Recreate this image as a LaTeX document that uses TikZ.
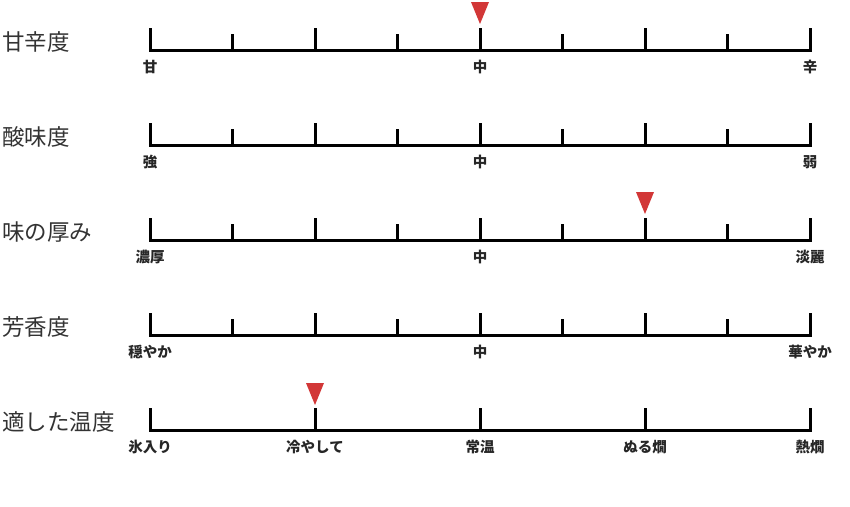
\documentclass[tikz,border=0pt]{standalone}
\usepackage{fontspec}
\newfontfamily\jpfont{Noto Sans CJK JP}
\usepackage{xcolor}
\usetikzlibrary{positioning}
\definecolor{markred}{HTML}{D23737}

\begin{document}
\begin{tikzpicture}[x=1pt, y=-1pt,
  axis/.style={line width=3pt, black},
  rowtitle/.style={anchor=west, font=\jpfont\fontsize{22.5}{22.5}\selectfont, text=black!80, inner sep=0pt},
  ticklabel/.style={font=\jpfont\bfseries\fontsize{14.5}{14.5}\selectfont, text=black!85, inner sep=0pt},
  marker/.style={fill=markred}]
\useasboundingbox (0,0) rectangle (850,506);
% four scales with nine ticks each
\foreach \i/\yy/\ttl/\lo/\hi in {1/50/甘辛度/甘/辛, 2/145/酸味度/強/弱,
    3/240/味の厚み/濃厚/淡麗, 4/335/芳香度/穏やか/華やか}{
  \node[rowtitle] (title\i) at (2,\yy-8) {\ttl};
  \coordinate (a\i) at (150,\yy);
  \coordinate (b\i) at (810,\yy);
  \draw[axis] ([yshift=22pt]a\i) -- (a\i) -- (b\i) -- ([yshift=22pt]b\i);
  \foreach \xx in {315,480,645}
    \draw[axis] (\xx,\yy) -- ++(0,-22);
  \foreach \xx in {232.5,397.5,562.5,727.5}
    \draw[axis] (\xx,\yy) -- ++(0,-16);
  \node[ticklabel] (lo\i) at (150,\yy+17) {\lo};
  \node[ticklabel] (mid\i) at (480,\yy+17) {中};
  \node[ticklabel] (hi\i) at (810,\yy+17) {\hi};
}
% temperature scale
\node[rowtitle] (title5) at (2,422) {適した温度};
\coordinate (a5) at (150,430);
\coordinate (b5) at (810,430);
\draw[axis] ([yshift=22pt]a5) -- (a5) -- (b5) -- ([yshift=22pt]b5);
\foreach \xx in {315,480,645}
  \draw[axis] (\xx,430) -- ++(0,-22);
\foreach \xx/\tl [count=\n] in {150/氷入り, 315/冷やして, 480/常温, 645/ぬる燗, 810/熱燗}
  \node[ticklabel] (temp\n) at (\xx,447) {\tl};
% markers
\coordinate (m1) at (480,24);
\coordinate (m3) at (645,214);
\coordinate (m5) at (315,405);
\foreach \m in {m1,m3,m5}
  \fill[marker] (\m) -- ++(-9,-22) -- ++(18,0) -- cycle;
\end{tikzpicture}
\end{document}
